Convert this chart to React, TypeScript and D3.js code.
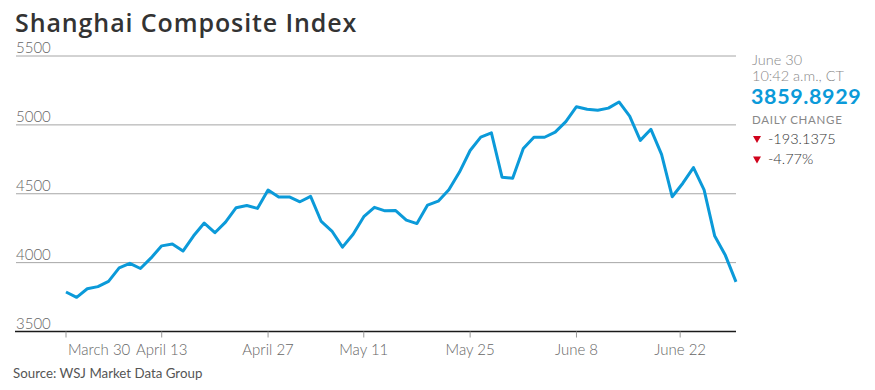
import React, { useEffect } from 'react';
import * as d3 from 'd3';

// trading days, 2015 (holidays skipped)
const dates = [
  '2015-03-30', '2015-03-31', '2015-04-01', '2015-04-02', '2015-04-03',
  '2015-04-07', '2015-04-08', '2015-04-09', '2015-04-10',
  '2015-04-13', '2015-04-14', '2015-04-15', '2015-04-16', '2015-04-17',
  '2015-04-20', '2015-04-21', '2015-04-22', '2015-04-23', '2015-04-24',
  '2015-04-27', '2015-04-28', '2015-04-29', '2015-04-30',
  '2015-05-04', '2015-05-05', '2015-05-06', '2015-05-07', '2015-05-08',
  '2015-05-11', '2015-05-12', '2015-05-13', '2015-05-14', '2015-05-15',
  '2015-05-18', '2015-05-19', '2015-05-20', '2015-05-21', '2015-05-22',
  '2015-05-25', '2015-05-26', '2015-05-27', '2015-05-28', '2015-05-29',
  '2015-06-01', '2015-06-02', '2015-06-03', '2015-06-04', '2015-06-05',
  '2015-06-08', '2015-06-09', '2015-06-10', '2015-06-11', '2015-06-12',
  '2015-06-15', '2015-06-16', '2015-06-17', '2015-06-18', '2015-06-19',
  '2015-06-23', '2015-06-24', '2015-06-25', '2015-06-26',
  '2015-06-29', '2015-06-30',
];

const closes = [
  3786.6, 3747.9, 3810.3, 3825.8, 3863.9,
  3961.4, 3994.8, 3957.5, 4034.3,
  4121.7, 4135.6, 4084.2, 4194.8, 4287.3,
  4217.1, 4293.6, 4398.5, 4414.5, 4393.7,
  4527.4, 4476.2, 4476.6, 4441.7,
  4480.5, 4298.7, 4229.3, 4112.2, 4205.9,
  4333.6, 4401.2, 4375.8, 4378.3, 4308.7,
  4283.5, 4417.6, 4446.3, 4529.4, 4657.6,
  4813.8, 4910.9, 4941.7, 4620.3, 4611.7,
  4828.7, 4910.5, 4910.0, 4947.1, 5023.1,
  5131.9, 5113.5, 5106.0, 5121.6, 5166.4,
  5063.0, 4887.4, 4967.9, 4785.4, 4478.4,
  4576.5, 4690.2, 4527.8, 4192.9,
  4053.0, 3859.9,
];

const yTicks = [3500, 4000, 4500, 5000, 5500];
const xTickDates = ['2015-03-30', '2015-04-13', '2015-04-27', '2015-05-11', '2015-05-25', '2015-06-08', '2015-06-22'];
const xTickLabels = ['March 30', 'April 13', 'April 27', 'May 11', 'May 25', 'June 8', 'June 22'];

const title = 'Shanghai Composite Index';
const source = 'Source: WSJ Market Data Group';
const infoDate = 'June 30';
const infoTime = '10:42 a.m., CT';
const lastValue = '3859.8929';
const changeLabel = 'DAILY CHANGE';
const changeAbs = '-193.1375';
const changePct = '-4.77%';

const parse = d3.timeParse('%Y-%m-%d');
const times = dates.map(d => parse(d)!.getTime());

// fractional trading-day index for any calendar date (holidays fall between neighbours)
const dayIndex = (s: string) => {
  const t = parse(s)!.getTime();
  const i = d3.bisectLeft(times, t);
  if (i < times.length && times[i] === t) return i;
  if (i <= 0) return 0;
  if (i >= times.length) return times.length - 1;
  return i - 1 + (t - times[i - 1]) / (times[i] - times[i - 1]);
};

const W = 875;
const H = 390;
const left = 16;
const right = 736;

const font = 'Lato, "Open Sans", sans-serif';

const App: React.FC = () => {
  useEffect(() => {
    document.body.style.margin = '0';
  }, []);

  const x = d3.scaleLinear().domain([0, dates.length - 1]).range([66, right]);
  const y = d3.scaleLinear().domain([3500, 5500]).range([331.5, 56]);

  const line = d3.line<number>()
    .x((_, i) => x(i))
    .y(d => y(d));

  const tri = (cx: number, cy: number) => `M${cx - 4},${cy - 4}L${cx + 4},${cy - 4}L${cx},${cy + 3}Z`;

  return (
    <div style={{ position: 'absolute', left: 0, top: 0 }}>
      <svg width={W} height={H} style={{ display: 'block', background: '#fff' }}>
        <text x={15} y={32} fontFamily='"Open Sans", sans-serif' fontWeight={600} fontSize={25} letterSpacing={0.9} fill="#333">
          {title}
        </text>

        {yTicks.slice(1).map(t => (
          <line key={t} x1={left} x2={right} y1={y(t)} y2={y(t)} stroke="#a6a6a6" strokeWidth={1} />
        ))}
        {yTicks.map(t => (
          <text key={'l' + t} x={left} y={y(t) - 3} fontFamily={font} fontWeight={300} fontSize={15} fill="#666">
            {t}
          </text>
        ))}

        <line x1={15} x2={right} y1={y(3500)} y2={y(3500)} stroke="#1a1a1a" strokeWidth={1.5} />
        {xTickDates.map((d, i) => {
          const xx = x(dayIndex(d));
          return (
            <g key={d}>
              <line x1={xx} x2={xx} y1={y(3500)} y2={y(3500) + 6} stroke="#999" strokeWidth={1} />
              <text
                x={i === 0 ? xx + 2 : xx}
                y={355}
                textAnchor={i === 0 ? 'start' : 'middle'}
                fontFamily={font}
                fontWeight={300}
                fontSize={15}
                fill="#666"
              >
                {xTickLabels[i]}
              </text>
            </g>
          );
        })}

        <path d={line(closes) || ''} fill="none" stroke="#0b9ad9" strokeWidth={3} strokeLinejoin="round" />

        <text x={13} y={378} fontFamily={font} fontSize={13.3} fill="#555">{source}</text>

        <g fontFamily={font}>
          <text x={752} y={64.5} fontSize={14.5} fontWeight={300} fill="#888">{infoDate}</text>
          <text x={752} y={80.5} fontSize={14.5} fontWeight={300} fill="#888">{infoTime}</text>
          <text x={751} y={104} fontSize={21.5} fontWeight={700} letterSpacing={0.6} fill="#0b9ad9">{lastValue}</text>
          <text x={752} y={124} fontSize={11.5} fill="#888" letterSpacing={0.7}>{changeLabel}</text>
          <path d={tri(757, 140)} fill="#d0021b" />
          <text x={768} y={143.5} fontSize={14.5} fontWeight={300} fill="#333">{changeAbs}</text>
          <path d={tri(757, 160.5)} fill="#d0021b" />
          <text x={768} y={164} fontSize={14.5} fontWeight={300} fill="#333">{changePct}</text>
        </g>
      </svg>
    </div>
  );
};

export default App;
